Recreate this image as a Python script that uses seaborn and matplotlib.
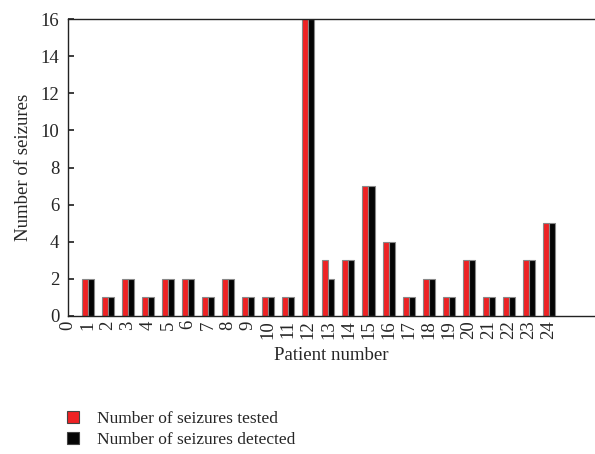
import pandas as pd
import matplotlib
matplotlib.use("Agg")
import matplotlib.pyplot as plt
import seaborn as sns

# --- DATA ---
patients = list(range(1, 25))
tested = [2, 1, 2, 1, 2, 2, 1, 2, 1, 1, 1, 16, 3, 3, 7, 4, 1, 2, 1, 3, 1, 1, 3, 5]
detected = [2, 1, 2, 1, 2, 2, 1, 2, 1, 1, 1, 16, 2, 3, 7, 4, 1, 2, 1, 3, 1, 1, 3, 5]
series_names = ["Number of seizures tested", "Number of seizures detected"]
colors = ["#ee2224", "#050505"]

sns.set_theme(style="ticks")
plt.rcParams["font.family"] = ["Liberation Serif", "DejaVu Serif"]

df = pd.DataFrame({
    "patient": patients * 2,
    "count": tested + detected,
    "series": [series_names[0]] * len(patients) + [series_names[1]] * len(patients),
})

fig = plt.figure(figsize=(5.95, 4.54), dpi=100)
ax = fig.add_axes([0.114, 0.304, 0.886, 0.654])

sns.barplot(
    data=df, x="patient", y="count", hue="series", native_scale=True,
    palette=colors, saturation=1, width=0.6, edgecolor="#888888", linewidth=0.8,
    ax=ax, legend=False,
)

ax.set_xlim(0, 26.3)
ax.set_ylim(0, 16)
ax.set_xticks(range(0, 25))
ax.set_xticklabels([str(i) for i in range(0, 25)], rotation=90, fontsize=13.5)
ax.set_yticks(range(0, 17, 2))
ax.tick_params(axis="y", direction="in", length=4, labelsize=13.5, pad=6)
ax.tick_params(axis="x", length=0, pad=3)
for side in ["left", "bottom", "top"]:
    ax.spines[side].set_color("#222222")
    ax.spines[side].set_linewidth(1.0)
ax.spines["right"].set_visible(False)

ax.set_xlabel("Patient number", fontsize=13.5, labelpad=6)
ax.set_ylabel("Number of seizures", fontsize=13.5, labelpad=6)

handles = [plt.Rectangle((0, 0), 1, 1, facecolor=c, edgecolor="#444444", linewidth=0.8)
           for c in colors]
fig.legend(handles, series_names, loc="upper left", bbox_to_anchor=(0.113, 0.094),
           frameon=False, fontsize=12.5, handlelength=0.7, handleheight=0.7,
           handletextpad=1.0, labelspacing=0.25, borderpad=0, borderaxespad=0)

fig.savefig("out.png", dpi=100)
plt.close(fig)
